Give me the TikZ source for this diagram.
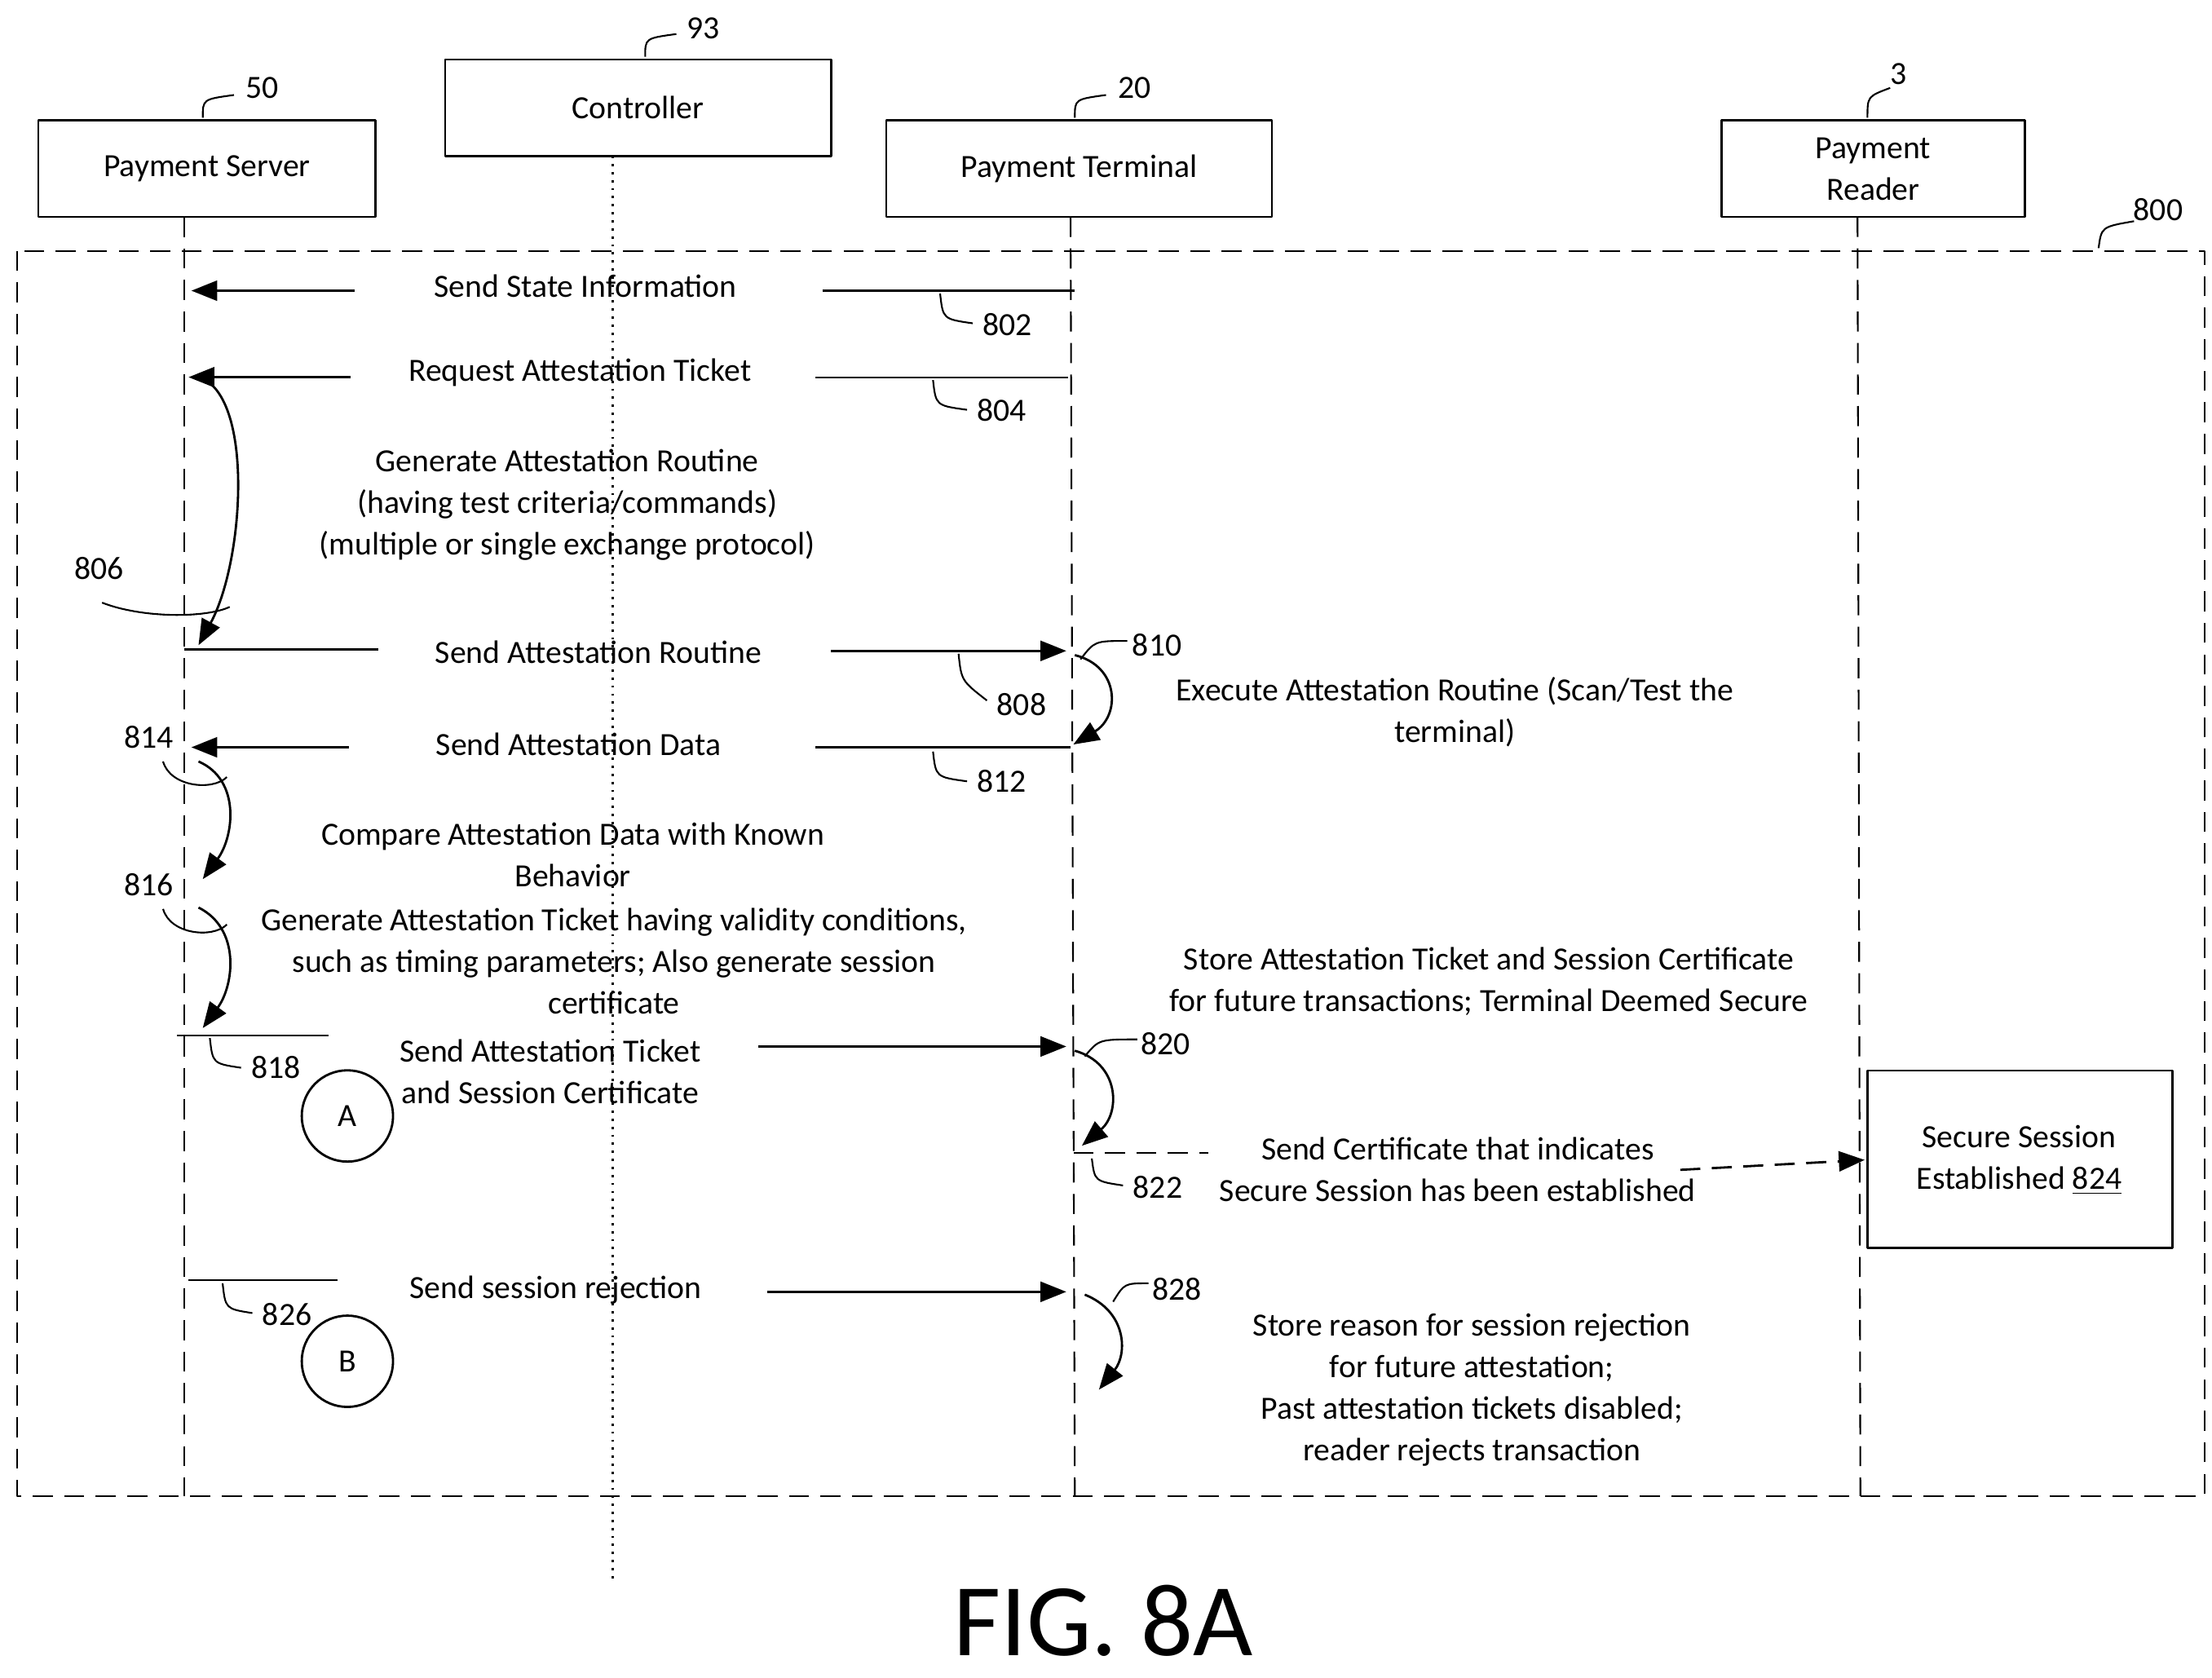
\documentclass[tikz,border=0pt]{standalone}
\usepackage{fontspec}
\setmainfont{Carlito}
\usetikzlibrary{arrows.meta,positioning}
\tikzset{
  box/.style={draw,line width=0.8pt,minimum width=#1,minimum height=1.18cm,align=center},
  life/.style={dash pattern=on 7pt off 4pt,line width=0.6pt},
  msg/.style={-{Triangle[length=9pt,width=7pt]},line width=0.8pt},
  lead/.style={line width=0.6pt},
  txt/.style={align=center,font=\fontsize{11.3pt}{14.5pt}\selectfont},
  refl/.style={font=\fontsize{11.3pt}{14pt}\selectfont},
}
\begin{document}
\begin{tikzpicture}[x=0.01739cm,y=-0.01739cm,line join=round]
  \useasboundingbox (0,0) rectangle (1560,1183);
  % participants
  \draw[line width=0.8pt] (27,85) rectangle (265,153);
  \node[txt] (srv) at (146,119) {Payment Server};
  \draw[line width=0.8pt] (314,42) rectangle (586,110);
  \node[txt] (ctl) at (450,76) {Controller};
  \draw[line width=0.8pt] (625,85) rectangle (897,153);
  \node[txt] (term) at (761,119) {Payment Terminal};
  \draw[line width=0.8pt] (1214,85) rectangle (1428,153);
  \node[txt] (rdr) at (1321,119) {Payment\\Reader};
  % reference numerals of participants
  \node[refl] (n50) at (185,62) {50};
  \draw[lead] (143,83) .. controls (143,70) .. (165,67);
  \node[refl] (n93) at (496,20) {93};
  \draw[lead] (455,40) .. controls (455,27) .. (477,24);
  \node[refl] (n20) at (800,62) {20};
  \draw[lead] (758,83) .. controls (758,70) .. (780,67);
  \node[refl] (n3) at (1339,52) {3};
  \draw[lead] (1317,83) .. controls (1317,68) .. (1333,62);
  \node[refl] (n800) at (1522,148) {800};
  \draw[lead] (1480,175) .. controls (1482,160) .. (1505,156);
  % frame and lifelines
  \draw[life] (12,177) rectangle (1555,1055);
  \draw[life] (130,153) -- (130,1055);
  \draw[life] (755,153) -- (758,1055);
  \draw[life] (1310,153) -- (1312,1055);
  \draw[dotted,line width=0.8pt] (432,110) -- (432,1115);
  % 802
  \node[txt] (m802) at (413,202) {Send State Information};
  \draw[lead] (580,205) -- (758,205);
  \draw[msg] (250,205) -- (135,205);
  \draw[lead] (663,207) .. controls (665,225) .. (686,228);
  \node[refl,anchor=west] at (686,229) {802};
  % 804
  \node[txt] (m804) at (409,263) {Request Attestation Ticket};
  \draw[lead] (575,266) -- (753,266);
  \draw[msg] (247,266) -- (133,266);
  \draw[lead] (658,268) .. controls (660,286) .. (682,289);
  \node[refl,anchor=west] at (682,289) {804};
  % 806
  \node[txt] (s806) at (400,356) {Generate Attestation Routine\\(having test criteria/commands)\\(multiple or single exchange protocol)};
  \draw[msg] (150,272) .. controls (178,300) and (170,400) .. (140,455);
  \node[refl] at (70,401) {806};
  \draw[lead] (72,425) .. controls (100,436) and (145,436) .. (162,428);
  % 808
  \node[txt] (m808) at (422,460) {Send Attestation Routine};
  \draw[lead] (130,458) -- (267,458);
  \draw[msg] (586,459) -- (752,459);
  \draw[lead] (676,461) .. controls (678,480) .. (696,494);
  \node[refl,anchor=west] at (696,497) {808};
  % 810
  \draw[msg] (758,462) .. controls (790,470) and (790,505) .. (757,525);
  \node[refl] at (816,455) {810};
  \draw[lead] (762,465) .. controls (772,452) .. (795,452);
  \node[txt] (s810) at (1026,502) {Execute Attestation Routine (Scan/Test the\\terminal)};
  % 812
  \node[txt] (m812) at (408,525) {Send Attestation Data};
  \draw[lead] (575,527) -- (755,527);
  \draw[msg] (246,527) -- (135,527);
  \draw[lead] (658,530) .. controls (660,548) .. (682,551);
  \node[refl,anchor=west] at (682,551) {812};
  % 814
  \node[refl] at (105,520) {814};
  \draw[lead] (115,537) .. controls (120,555) and (150,558) .. (160,548);
  \draw[msg] (140,537) .. controls (170,550) and (165,590) .. (143,620);
  \node[txt] (s814) at (404,603) {Compare Attestation Data with Known\\Behavior};
  % 816
  \node[refl] at (105,624) {816};
  \draw[lead] (115,641) .. controls (120,659) and (150,662) .. (160,652);
  \draw[msg] (140,640) .. controls (170,655) and (165,695) .. (143,725);
  \node[txt] (s816) at (433,678) {Generate Attestation Ticket having validity conditions,\\such as timing parameters; Also generate session\\certificate};
  % 818
  \node[txt] (m818) at (388,756) {Send Attestation Ticket\\and Session Certificate};
  \draw[lead] (125,730) -- (232,730);
  \draw[msg] (535,738) -- (752,738);
  \draw[lead] (148,732) .. controls (150,750) .. (170,753);
  \node[refl,anchor=west] at (170,753) {818};
  \node[draw,circle,line width=0.8pt,minimum size=1.12cm,txt] (A) at (245,787) {A};
  % 820
  \node[txt] (s820) at (1050,692) {Store Attestation Ticket and Session Certificate\\for future transactions; Terminal Deemed Secure};
  \draw[msg] (758,741) .. controls (790,750) and (790,785) .. (763,808);
  \node[refl] at (822,736) {820};
  \draw[lead] (765,745) .. controls (775,733) .. (802,733);
  % 822
  \node[txt] (m822) at (1028,825) {Send Certificate that indicates\\Secure Session has been established};
  \draw[life] (757,813) -- (852,813);
  \draw[msg,dash pattern=on 7pt off 4pt] (1185,825) -- (1315,818);
  \draw[lead] (770,817) .. controls (772,833) .. (792,836);
  \node[refl,anchor=west] at (792,837) {822};
  \draw[line width=0.8pt] (1317,755) rectangle (1532,880);
  \node[txt] (s824) at (1424,818) {Secure Session\\Established \underline{824}};
  % 826
  \node[txt] (m826) at (392,910) {Send session rejection};
  \draw[lead] (133,903) -- (238,903);
  \draw[msg] (541,911) -- (752,911);
  \draw[lead] (157,905) .. controls (159,923) .. (178,926);
  \node[refl,anchor=west] at (178,927) {826};
  \node[draw,circle,line width=0.8pt,minimum size=1.12cm,txt] (B) at (245,960) {B};
  % 828
  \draw[msg] (765,913) .. controls (795,925) and (795,955) .. (775,980);
  \node[refl] at (830,909) {828};
  \draw[lead] (785,918) .. controls (793,905) .. (810,905);
  \node[txt] (s828) at (1038,980) {Store reason for session rejection\\for future attestation;\\Past attestation tickets disabled;\\reader rejects transaction};
  % figure label
  \node[font=\fontsize{36pt}{40pt}\selectfont] (fig) at (778,1143) {FIG. 8A};
\end{tikzpicture}
\end{document}
